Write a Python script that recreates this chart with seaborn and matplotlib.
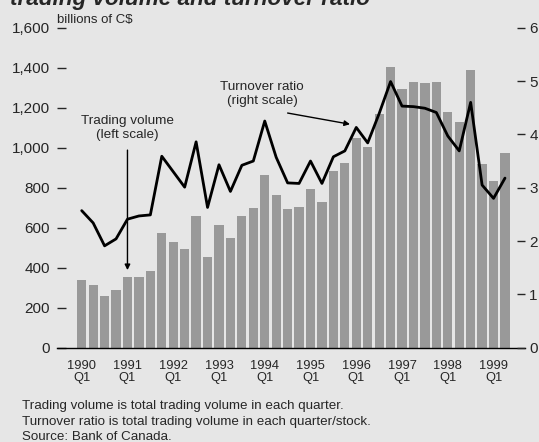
import numpy as np
import matplotlib
matplotlib.use("Agg")
import matplotlib.pyplot as plt
import seaborn as sns

# Quarterly data, 1990 Q1 - 1999 Q2
years = list(range(1990, 2000))
quarters = [f"{y} Q{q}" for y in years for q in range(1, 5)][:38]

# Trading volume, billions of C$ (left scale)
volume = [338, 312, 260, 287, 353, 353, 385, 572,
          530, 492, 660, 455, 615, 547, 658, 698,
          865, 762, 692, 702, 792, 727, 882, 925,
          1050, 1002, 1168, 1405, 1292, 1328, 1323, 1330,
          1178, 1128, 1388, 917, 832, 973]

# Turnover ratio (right scale)
turnover = [2.57, 2.34, 1.91, 2.04, 2.41, 2.47, 2.49, 3.59,
            3.30, 3.01, 3.86, 2.63, 3.43, 2.93, 3.42, 3.50,
            4.25, 3.57, 3.09, 3.08, 3.50, 3.08, 3.58, 3.69,
            4.13, 3.84, 4.39, 4.99, 4.53, 4.52, 4.49, 4.41,
            3.97, 3.69, 4.60, 3.05, 2.80, 3.18]

left_ticks = [0, 200, 400, 600, 800, 1000, 1200, 1400, 1600]
right_ticks = [0, 1, 2, 3, 4, 5, 6]
year_labels = [f"{y}\nQ1" for y in years]

notes = ["Trading volume is total trading volume in each quarter.",
         "Turnover ratio is total trading volume in each quarter/stock.",
         "Source: Bank of Canada."]

bg = "#e6e6e6"
sns.set_style("white")
plt.rcParams["font.family"] = ["Liberation Sans", "DejaVu Sans"]

fig = plt.figure(figsize=(5.39, 4.42), dpi=100, facecolor=bg)
ax = fig.add_axes([57 / 539, 1 - 347.7 / 442, (525 - 57) / 539, 320 / 442])
ax.set_facecolor(bg)

idx = np.arange(len(quarters))
sns.barplot(x=idx, y=volume, ax=ax, color="#999999", width=0.81,
            saturation=1, linewidth=0)

ax.set_xlim(-2.16, 38.75)
ax.set_ylim(0, 1600)
ax.set_yticks(left_ticks)
ax.set_yticklabels([f"{v:,}" for v in left_ticks], fontsize=11)
ax.set_xticks(np.arange(0, 38, 4))
ax.set_xticklabels(year_labels, fontsize=9.3, linespacing=1.0)
ax.set_xticks(idx, minor=True)
ax.tick_params(axis="x", which="major", direction="out", length=7, width=1, pad=2)
ax.tick_params(axis="x", which="minor", direction="out", length=3.5, width=1)
ax.tick_params(axis="y", direction="in", length=6.5, width=1, pad=5, left=True)
for s in ["top", "left", "right"]:
    ax.spines[s].set_visible(False)
ax.spines["bottom"].set_color("black")
ax.spines["bottom"].set_linewidth(1)
ax.set_xlabel("")
ax.set_ylabel("")

ax2 = ax.twinx()
sns.lineplot(x=idx, y=turnover, ax=ax2, color="black", linewidth=2.0)
ax2.set_ylim(0, 6)
ax2.set_yticks(right_ticks)
ax2.set_yticklabels([str(v) for v in right_ticks], fontsize=11)
ax2.tick_params(axis="y", direction="in", length=6, width=1, pad=3, right=True)
for s in ["top", "left", "right", "bottom"]:
    ax2.spines[s].set_visible(False)
ax2.set_xlim(-2.16, 38.75)

# Annotations
ax.text(4.0, 1098, "Trading volume\n(left scale)", ha="center", va="center",
        fontsize=9.7, linespacing=1.2)
ax.annotate("", xy=(4.0, 388), xytext=(4.0, 988),
            arrowprops=dict(arrowstyle="-|>", color="black", lw=1,
                            mutation_scale=8, shrinkA=0, shrinkB=0))
ax2.text(15.76, 4.76, "Turnover ratio\n(right scale)", ha="center", va="center",
         fontsize=9.7, linespacing=1.2)
ax2.annotate("", xy=(23.45, 4.19), xytext=(18.0, 4.40),
             arrowprops=dict(arrowstyle="-|>", color="black", lw=1,
                             mutation_scale=8, shrinkA=0, shrinkB=0))

# Title (cut off at top) and unit label
fig.text(10 / 539, 1 - 5 / 442, "trading volume and turnover ratio",
         fontsize=16.2, fontweight="bold", fontstyle="italic", va="baseline")
fig.text(57 / 539, 1 - 23 / 442, "billions of C$", fontsize=9.5, va="baseline")

for i, line in enumerate(notes):
    fig.text(22 / 539, 1 - (409.5 + 15 * i) / 442, line, fontsize=9.6,
             va="baseline")

fig.savefig("out.png", dpi=100, facecolor=bg)
